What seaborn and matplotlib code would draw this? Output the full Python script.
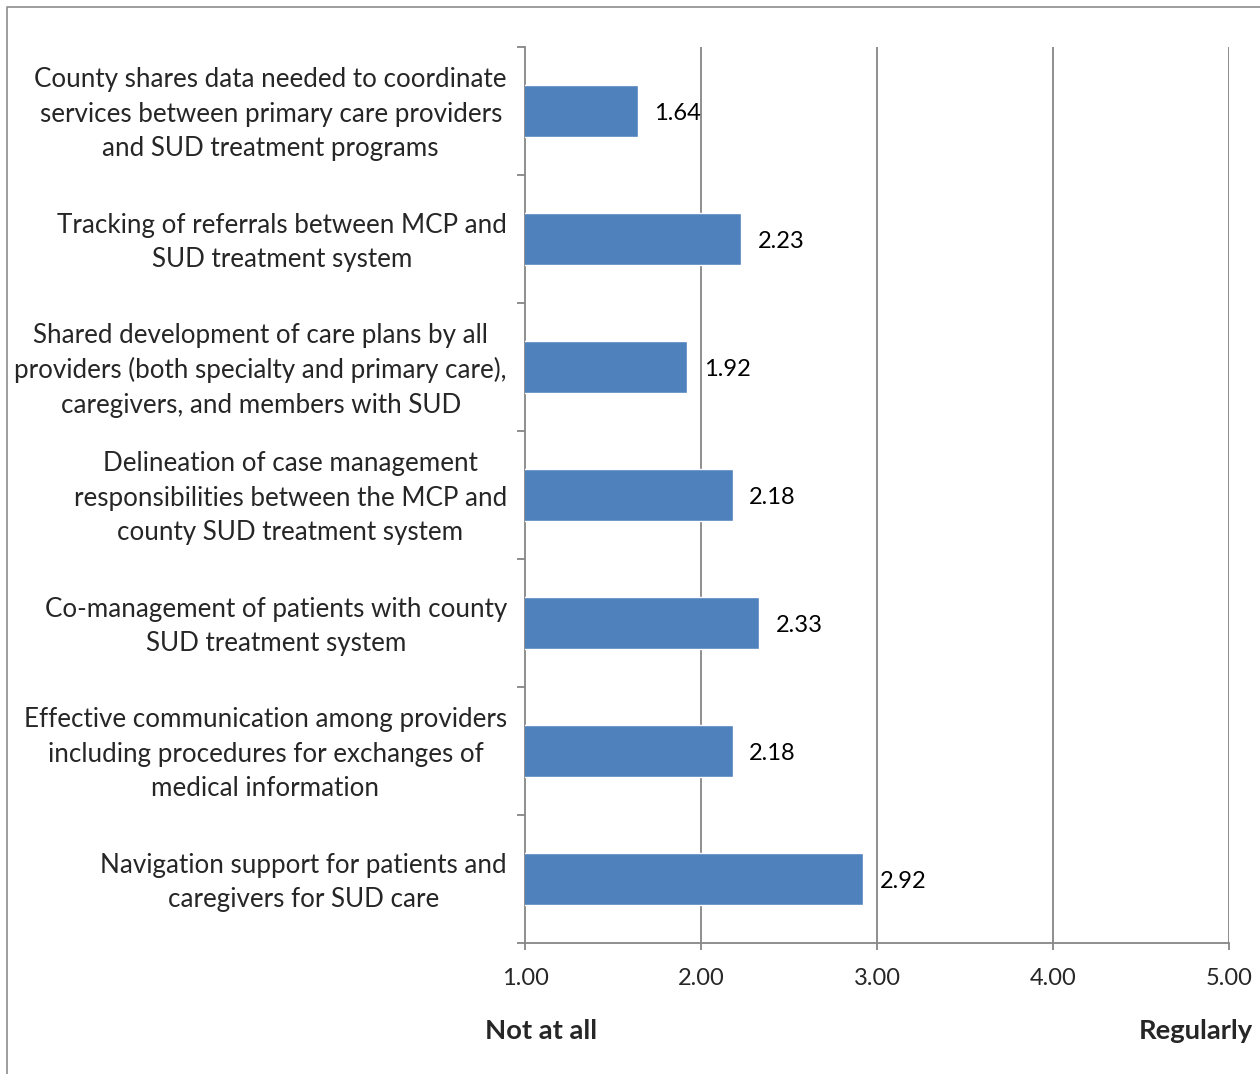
import numpy as np
import pandas as pd
import seaborn as sns
import matplotlib
matplotlib.use("Agg")
import matplotlib.pyplot as plt
import matplotlib.transforms as mtransforms
from matplotlib.lines import Line2D

categories = [
    "County shares data needed to coordinate\nservices between primary care providers\nand SUD treatment programs",
    "Tracking of referrals between MCP and\nSUD treatment system",
    "Shared development of care plans by all\nproviders (both specialty and primary care),\ncaregivers, and members with SUD",
    "Delineation of case management\nresponsibilities between the MCP and\ncounty SUD treatment system",
    "Co-management of patients with county\nSUD treatment system",
    "Effective communication among providers\nincluding procedures for exchanges of\nmedical information",
    "Navigation support for patients and\ncaregivers for SUD care",
]
values = [1.64, 2.23, 1.92, 2.18, 2.33, 2.18, 2.92]
x_ticks = [1.0, 2.0, 3.0, 4.0, 5.0]
low_label = "Not at all"
high_label = "Regularly"

sns.set_theme(style="white")
plt.rcParams['font.family'] = ['Lato', 'DejaVu Sans']

W, H = 1260, 1074
fig = plt.figure(figsize=(W / 100, H / 100), dpi=100)
ax = fig.add_axes([525 / W, 1 - 943 / H, (1229 - 525) / W, (943 - 47) / H])

df = pd.DataFrame({"cat": categories, "val": values})
sns.barplot(data=df, x="val", y="cat", orient="h", color="#4F81BD",
            saturation=1, width=0.40, ax=ax, zorder=3)

ax.set_xlim(1, 5)
ax.set_ylim(6.5, -0.5)
ax.set_xlabel("")
ax.set_ylabel("")

grid_c = "#868686"
ax.set_xticks(x_ticks)
ax.set_xticklabels([f"{t:.2f}" for t in x_ticks], fontsize=17)
for t in x_ticks[1:]:
    ax.axvline(t, color=grid_c, lw=1.3, zorder=1)

ax.set_yticks(range(len(categories)))
ax.set_yticklabels(categories, fontsize=18.7, multialignment="center", linespacing=1.46)
ax.set_yticks(np.arange(-0.5, len(categories), 1), minor=True)
ax.tick_params(axis="y", which="major", length=0, pad=13)
ax.tick_params(axis="y", which="minor", length=6, width=1.3, color=grid_c, direction="out", left=True)
ax.tick_params(axis="x", which="major", length=5, width=1.3, color=grid_c, direction="out", bottom=True, pad=13)

shift = mtransforms.ScaledTranslation(0, 4 / 100, fig.dpi_scale_trans)
for lab in ax.get_yticklabels():
    lab.set_transform(lab.get_transform() + shift)

for s in ["top", "right"]:
    ax.spines[s].set_visible(False)
for s in ["left", "bottom"]:
    ax.spines[s].set_color(grid_c)
    ax.spines[s].set_linewidth(1.3)

for i, v in enumerate(values):
    ax.annotate(f"{v:.2f}", xy=(v, i), xytext=(12, -1.5), textcoords="offset points",
                va="center", ha="left", fontsize=17, color="black", zorder=4)

fig.text(485 / W, 1 - 1031 / H, low_label, fontsize=19.7, fontweight="bold", ha="left", va="center")
fig.text(1253 / W, 1 - 1031 / H, high_label, fontsize=19.7, fontweight="bold", ha="right", va="center")

fig.add_artist(Line2D([7 / W, 7 / W, 1.0], [0.0, 1 - 7 / H, 1 - 7 / H],
                      color="#8c8c8c", lw=1.2, transform=fig.transFigure))

fig.savefig("out.png", dpi=100, facecolor="white")
